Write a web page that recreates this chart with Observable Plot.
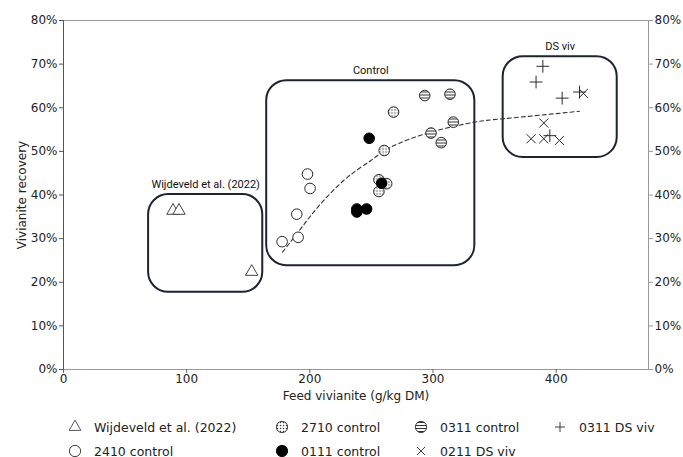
<!DOCTYPE html>
<html>
<head>
<meta charset="utf-8">
<script src="https://cdn.jsdelivr.net/npm/d3@7"></script>
<script src="https://cdn.jsdelivr.net/npm/@observablehq/plot@0.6"></script>
<style>
  html, body { margin: 0; padding: 0; background: #fff; overflow: hidden; }
  #wrap { width: 683px; height: 457px; position: relative; font-family: "DejaVu Sans", sans-serif; }
  #legend { position: absolute; left: 0; top: 410px; width: 683px; height: 47px; font-size: 12.5px; color: #222; }
  .item { position: absolute; display: flex; align-items: center; height: 20px; white-space: nowrap; }
  .item svg { margin-right: 12px; overflow: visible; }
</style>
</head>
<body>
<div id="wrap"><div id="chart"></div><div id="legend"></div></div>
<script>
// ---- data ----
const wijX = [88.9, 93.8, 152.8];
const wijY = [36.4, 36.4, 22.4];

const c2410X = [177.5, 190.5, 189.4, 198.1, 200.2];
const c2410Y = [29.3, 30.3, 35.6, 44.8, 41.5];

const c2710X = [268.0, 260.4, 256.1, 262.4, 256.1];
const c2710Y = [59.0, 50.2, 43.5, 42.6, 40.8];

const c0111X = [248.2, 238.2, 238.2, 246.1, 258.3];
const c0111Y = [53.0, 36.8, 36.1, 36.8, 42.7];

const c0311X = [293.3, 313.8, 316.5, 298.4, 306.7];
const c0311Y = [62.8, 63.1, 56.7, 54.2, 52.0];

const ds0311X = [389.2, 383.7, 404.9, 419.0, 394.9];
const ds0311Y = [69.5, 65.9, 62.2, 63.6, 53.6];

const ds0211X = [422.2, 390.0, 379.7, 390.0, 402.7];
const ds0211Y = [63.3, 56.5, 52.9, 52.9, 52.5];

// dashed trend line
const trendX = [177.8, 192.7, 208.9, 230.7, 249.6, 265.9, 298.4, 333.6, 358.0, 419.0];
const trendY = [26.9, 32.3, 38.0, 44.1, 47.9, 51.0, 54.4, 56.7, 57.5, 59.2];

// group boxes
const boxLabels = ["Wijdeveld et al. (2022)", "Control", "DS viv"];
const boxX1 = [69.1, 165.0, 357.0];
const boxX2 = [161.8, 334.0, 449.6];
const boxY1 = [17.7, 23.8, 48.6];
const boxY2 = [40.1, 66.2, 71.7];

const yTicks = [0, 10, 20, 30, 40, 50, 60, 70, 80];
const xTicks = [0, 100, 200, 300, 400];

const legendNames = ["Wijdeveld et al. (2022)", "2410 control", "2710 control", "0111 control", "0311 control", "0211 DS viv", "0311 DS viv"];

// ---- build tables ----
const pts = (xs, ys) => xs.map((x, i) => ({x, y: ys[i]}));
const boxes = boxLabels.map((l, i) => ({label: l, x1: boxX1[i], x2: boxX2[i], y1: boxY1[i], y2: boxY2[i], xm: (boxX1[i] + boxX2[i]) / 2}));
const trend = pts(trendX, trendY);

const ink = "#2a2a2a";
const pct = d => d + "%";

const plot = Plot.plot({
  width: 683,
  height: 410,
  marginLeft: 63,
  marginRight: 35,
  marginTop: 20,
  marginBottom: 41,
  style: {fontFamily: "DejaVu Sans, sans-serif", fontSize: "12px", color: "#222", background: "#fff"},
  x: {domain: [0, 475]},
  y: {domain: [0, 80]},
  marks: [
    Plot.frame({stroke: "#999"}),
    Plot.ruleX([0], {stroke: "#555"}),
    Plot.axisX({ticks: xTicks, tickSize: 4, tickPadding: 1, stroke: "#666", label: "Feed vivianite (g/kg DM)", labelAnchor: "center", labelArrow: "none", labelOffset: 30, fontSize: 12}),
    Plot.axisY({ticks: yTicks, tickFormat: pct, tickSize: 4, tickPadding: 2, stroke: "#555", label: "Vivianite recovery", labelAnchor: "center", labelArrow: "none", labelOffset: 46, fontSize: 12}),
    Plot.axisY({anchor: "right", ticks: yTicks, tickFormat: pct, tickSize: 4, tickPadding: 2, stroke: "#999", label: null, fontSize: 12}),
    Plot.rect(boxes, {x1: "x1", x2: "x2", y1: "y1", y2: "y2", rx: 20, fill: "none", stroke: "#1b2435", strokeWidth: 2}),
    Plot.text(boxes, {x: "xm", y: "y2", text: "label", dy: -10, fontFamily: "Roboto, sans-serif", fontSize: 11, fill: "#111"}),
    Plot.line(trend, {x: "x", y: "y", curve: "natural", stroke: "#333", strokeWidth: 1.1, strokeDasharray: "4,3"}),
    Plot.dot(pts(wijX, wijY), {x: "x", y: "y", symbol: "triangle", r: 4.6, stroke: "#444", strokeWidth: 1, fill: "white"}),
    Plot.dot(pts(c2410X, c2410Y), {x: "x", y: "y", symbol: "circle", r: 5.3, stroke: ink, strokeWidth: 1, fill: "white"}),
    Plot.dot(pts(c2710X, c2710Y), {x: "x", y: "y", symbol: "circle", r: 5.3, stroke: ink, strokeWidth: 1, fill: "url(#pat-dots)"}),
    Plot.dot(pts(c0311X, c0311Y), {x: "x", y: "y", symbol: "circle", r: 5.3, stroke: ink, strokeWidth: 1, fill: "url(#pat-lines)"}),
    Plot.dot(pts(c0111X, c0111Y), {x: "x", y: "y", symbol: "circle", r: 5.3, stroke: "#000", strokeWidth: 1, fill: "#000"}),
    Plot.dot(pts(ds0311X, ds0311Y), {x: "x", y: "y", symbol: "plus", r: 4.2, stroke: ink, strokeWidth: 1}),
    Plot.dot(pts(ds0211X, ds0211Y), {x: "x", y: "y", symbol: "times", r: 4.2, stroke: ink, strokeWidth: 1})
  ]
});

const defsMarkup = `
<pattern id="pat-dots" patternUnits="userSpaceOnUse" width="3" height="3">
  <rect width="3" height="3" fill="white"/>
  <circle cx="1.5" cy="1.5" r="0.75" fill="#333"/>
</pattern>
<pattern id="pat-lines" patternUnits="userSpaceOnUse" width="3" height="3">
  <rect width="3" height="3" fill="white"/>
  <rect y="1" width="3" height="1" fill="#333"/>
</pattern>`;

function addDefs(svg) {
  const defs = document.createElementNS("http://www.w3.org/2000/svg", "defs");
  defs.innerHTML = defsMarkup;
  svg.insertBefore(defs, svg.firstChild);
}
addDefs(plot);
document.getElementById("chart").appendChild(plot);

// ---- legend ----
const legendSym = {
  "Wijdeveld et al. (2022)": {type: "triangle", fill: "white", stroke: "#444"},
  "2410 control": {type: "circle", fill: "white", stroke: ink},
  "2710 control": {type: "circle", fill: "url(#lg-dots)", stroke: ink},
  "0111 control": {type: "circle", fill: "#000", stroke: "#000"},
  "0311 control": {type: "circle", fill: "url(#lg-lines)", stroke: ink},
  "0211 DS viv": {type: "times", fill: "none", stroke: ink},
  "0311 DS viv": {type: "plus", fill: "none", stroke: ink}
};
// column / row slot for each legend entry (in legendNames order)
const legendCol = [0, 0, 1, 1, 2, 2, 3];
const legendRow = [0, 1, 0, 1, 0, 1, 0];
const colLeft = [68, 275, 414, 553];
const rowTop = [7, 31];

const symGen = {
  triangle: d3.symbol(d3.symbolTriangle, 60),
  circle: d3.symbol(d3.symbolCircle, 100)
};

const legend = document.getElementById("legend");
legendNames.forEach((name, i) => {
  const s = legendSym[name];
  const div = document.createElement("div");
  div.className = "item";
  div.style.left = colLeft[legendCol[i]] + "px";
  div.style.top = rowTop[legendRow[i]] + "px";
  const d = s.type === "plus" ? "M-5,0H5M0,-5V5" : s.type === "times" ? "M-4,-4L4,4M-4,4L4,-4" : symGen[s.type]();
  div.innerHTML = `<svg width="14" height="14" viewBox="-7 -7 14 14">
    <defs>
      <pattern id="lg-dots" patternUnits="userSpaceOnUse" width="3" height="3"><rect width="3" height="3" fill="white"/><circle cx="1.5" cy="1.5" r="0.75" fill="#333"/></pattern>
      <pattern id="lg-lines" patternUnits="userSpaceOnUse" width="3" height="3"><rect width="3" height="3" fill="white"/><rect y="1" width="3" height="1" fill="#333"/></pattern>
    </defs>
    <path d="${d}" fill="${s.fill}" stroke="${s.stroke}" stroke-width="0.9"/></svg><span>${name}</span>`;
  legend.appendChild(div);
});
</script>
</body>
</html>
